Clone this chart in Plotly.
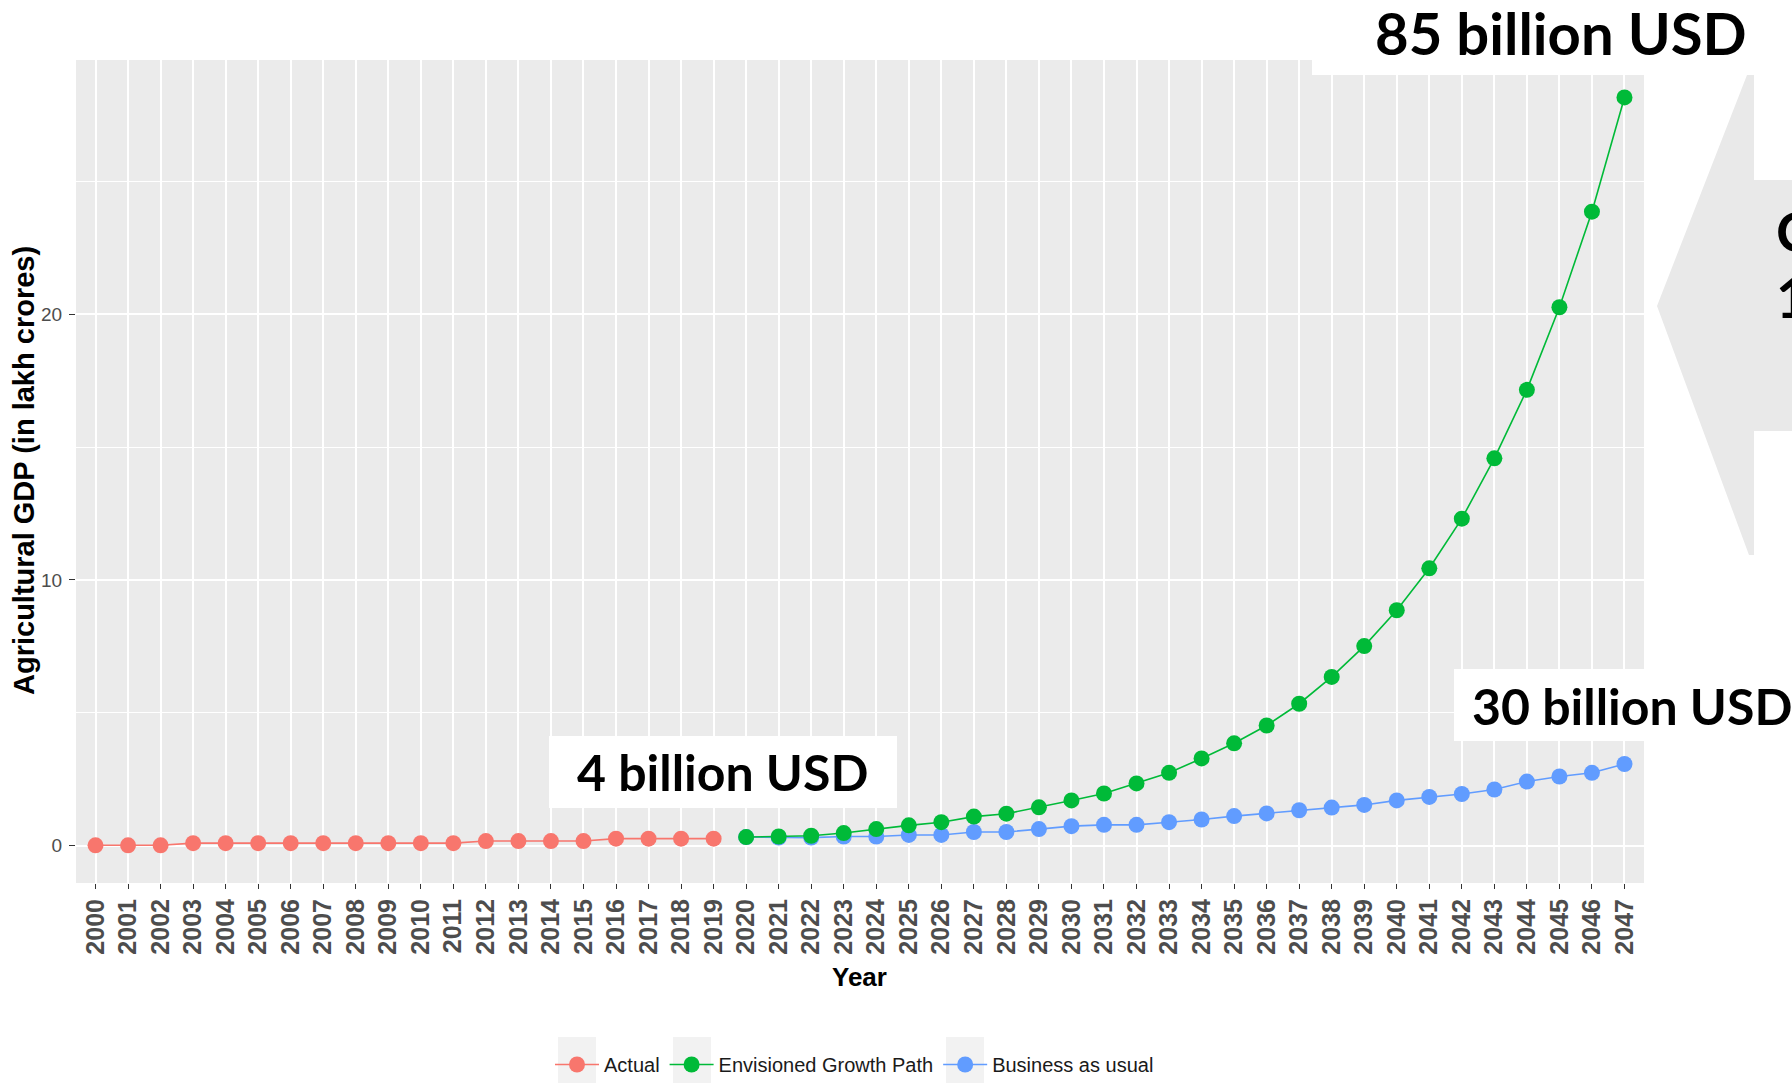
import plotly.graph_objects as go

# ---------------- data ----------------
years_actual = list(range(2000, 2020))
actual = [0.01, 0.01, 0.01, 0.09, 0.09, 0.09, 0.09, 0.09, 0.09, 0.09,
          0.09, 0.09, 0.17, 0.17, 0.17, 0.17, 0.26, 0.26, 0.26, 0.26]

years_proj = list(range(2020, 2048))
envisioned = [0.32, 0.34, 0.37, 0.47, 0.62, 0.76, 0.88, 1.09, 1.20, 1.44,
              1.70, 1.96, 2.34, 2.74, 3.28, 3.85, 4.52, 5.34, 6.35, 7.51,
              8.86, 10.44, 12.31, 14.58, 17.16, 20.27, 23.87, 28.17]
business = [0.32, 0.30, 0.30, 0.34, 0.34, 0.40, 0.40, 0.51, 0.51, 0.62,
            0.73, 0.78, 0.78, 0.88, 0.98, 1.11, 1.21, 1.33, 1.43, 1.53,
            1.70, 1.83, 1.94, 2.11, 2.41, 2.60, 2.74, 3.07]

tick_years = list(range(2000, 2048))
y_ticks = [0, 10, 20]

series_names = ["Actual", "Envisioned Growth Path", "Business as usual"]
labels = ["85 billion USD", "4 billion USD", "30 billion USD"]

# ---------------- layout geometry ----------------
W_FIG, H_FIG = 1792, 1083
L, T = 76, 60
W, H = 1568, 823


def pxx(px):
    return (px - L) / W


def pxy(py):
    return (T + H - py) / H


RED, GREEN, BLUE = "#F8766D", "#00BA38", "#619CFF"
TXT = "Liberation Sans, Arial, sans-serif"

fig = go.Figure()


def add_series(x, y, name, color, rank):
    fig.add_trace(go.Scatter(
        x=x, y=y, name=name, mode="lines+markers", legendrank=rank,
        line=dict(color=color, width=1.6),
        marker=dict(color=color, size=16, symbol="circle"),
        hoverinfo="x+y+name",
    ))


add_series(years_actual, actual, series_names[0], RED, 1)
add_series(years_proj, business, series_names[2], BLUE, 3)
add_series(years_proj, envisioned, series_names[1], GREEN, 2)

shapes = []
# white label boxes
for x0, x1, y0, y1 in [(1312, 1800, -10, 75), (549, 897, 736, 808), (1454, 1800, 669, 741)]:
    shapes.append(dict(type="rect", xref="paper", yref="paper",
                       x0=pxx(x0), x1=pxx(x1), y0=pxy(y1), y1=pxy(y0),
                       fillcolor="white", line=dict(width=0), layer="above"))

# arrow shape on the right
arrow_pts = [(1657, 306), (1747, 75), (1754, 75), (1754, 180), (1800, 180),
             (1800, 431), (1754, 431), (1754, 555), (1749, 555)]
path = "M " + " L ".join(f"{pxx(a):.5f},{pxy(b):.5f}" for a, b in arrow_pts) + " Z"
shapes.append(dict(type="path", xref="paper", yref="paper", path=path,
                   fillcolor="#E9E9E9", line=dict(width=0), layer="above"))

# legend key backgrounds (centred on the legend symbols)
LEG_LEFT = 550
for cx in [577, 692, 965]:
    shapes.append(dict(type="rect", xref="paper", yref="paper",
                       x0=pxx(cx - 19), x1=pxx(cx + 19), y0=pxy(1090), y1=pxy(1037),
                       fillcolor="#F2F2F2", line=dict(width=0), layer="below"))

annotations = [
    dict(text=labels[0], x=pxx(1561), y=pxy(33)),
    dict(text=labels[1], x=pxx(722), y=pxy(772), size=50),
    dict(text=labels[2], x=pxx(1632), y=pxy(706), size=50),
]
ann = []
for a in annotations:
    ann.append(dict(text="<b>" + a["text"] + "</b>", x=a["x"], y=a["y"],
                    xref="paper", yref="paper", xanchor="center", yanchor="middle",
                    showarrow=False,
                    font=dict(family="Lato, Carlito, sans-serif", size=a.get("size", 58), color="black")))
for t, yy in [("C", 230), ("1", 296)]:
    ann.append(dict(text="<b>" + t + "</b>", x=pxx(1774), y=pxy(yy), xref="paper", yref="paper",
                    xanchor="left", yanchor="middle", showarrow=False,
                    font=dict(family="Lato, Carlito, sans-serif", size=56, color="black")))
# axis titles
ann.append(dict(text="<b>Year</b>", x=pxx(859), y=pxy(977), xref="paper", yref="paper",
                xanchor="center", yanchor="middle", showarrow=False,
                font=dict(family=TXT, size=26, color="black")))
ann.append(dict(text="<b>Agricultural GDP (in lakh crores)</b>", x=pxx(24), y=pxy(471),
                xref="paper", yref="paper", xanchor="center", yanchor="middle",
                textangle=-90, showarrow=False,
                font=dict(family=TXT, size=29, color="black")))

fig.update_layout(
    width=W_FIG, height=H_FIG,
    margin=dict(l=L, r=W_FIG - L - W, t=T, b=H_FIG - T - H, pad=0, autoexpand=False),
    paper_bgcolor="white", plot_bgcolor="#EBEBEB",
    showlegend=True,
    legend=dict(orientation="h", x=pxx(LEG_LEFT), xanchor="left", y=pxy(1045), yanchor="top",
                font=dict(family=TXT, size=20, color="#1a1a1a"), bgcolor="rgba(0,0,0,0)",
                itemwidth=44, tracegroupgap=0),
    shapes=shapes, annotations=ann,
    xaxis=dict(range=[1999.4, 2047.6], tickmode="array", tickvals=tick_years,
               ticktext=[str(y) for y in tick_years], tickangle=-90,
               showgrid=True, gridcolor="white", gridwidth=1.6, zeroline=False,
               ticks="outside", ticklen=5, tickwidth=1.4, tickcolor="#333333",
               tickfont=dict(family=TXT, size=25, color="#4D4D4D", weight="bold"),
               showline=False),
    yaxis=dict(range=[-1.41, 29.58], tickmode="array", tickvals=y_ticks,
               showgrid=True, gridcolor="white", gridwidth=1.8, zeroline=False,
               minor=dict(dtick=5, tick0=0, showgrid=True, gridcolor="white", gridwidth=0.9),
               ticks="outside", ticklen=6, tickwidth=1.4, tickcolor="#333333",
               ticklabelstandoff=3,
               tickfont=dict(family=TXT, size=19, color="#4D4D4D"),
               showline=False),
)

fig.write_html("out.html")
